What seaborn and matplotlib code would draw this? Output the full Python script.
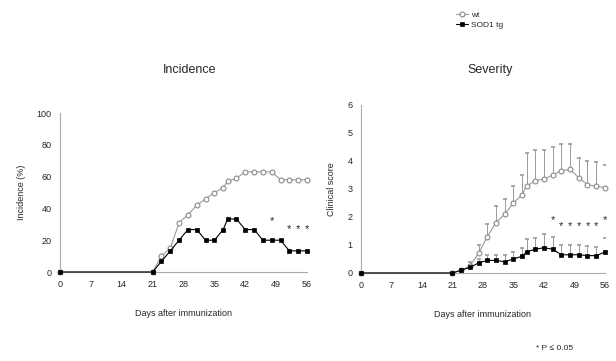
import matplotlib
matplotlib.use("Agg")
import matplotlib.pyplot as plt
import numpy as np
import pandas as pd
import seaborn as sns

sns.set_style("white")
plt.rcParams["font.family"] = ["Liberation Sans", "DejaVu Sans"]

# Data
days = [0, 21, 23, 25, 27, 29, 31, 33, 35, 37, 38, 40, 42, 44, 46, 48, 50, 52, 54, 56]

wt_incidence = [0, 0, 10, 15, 31, 36, 42, 46, 50, 53, 57, 59, 63, 63, 63, 63, 58, 58, 58, 58]
tg_incidence = [0, 0, 6.7, 13.3, 20, 26.7, 26.7, 20, 20, 26.7, 33.3, 33.3, 26.7, 26.7, 20, 20, 20, 13.3, 13.3, 13.3]

wt_score = [0, 0, 0.1, 0.25, 0.7, 1.3, 1.8, 2.1, 2.5, 2.8, 3.1, 3.3, 3.35, 3.5, 3.65, 3.7, 3.4, 3.15, 3.1, 3.05]
wt_sd = [0, 0, 0.05, 0.15, 0.3, 0.45, 0.6, 0.55, 0.6, 0.7, 1.2, 1.1, 1.05, 1.0, 0.95, 0.9, 0.7, 0.85, 0.85, 0.8]
tg_score = [0, 0, 0.1, 0.2, 0.36, 0.45, 0.45, 0.4, 0.5, 0.6, 0.75, 0.85, 0.9, 0.85, 0.65, 0.65, 0.65, 0.62, 0.62, 0.75]
tg_sd = [0, 0, 0.05, 0.1, 0.15, 0.2, 0.2, 0.25, 0.25, 0.3, 0.45, 0.4, 0.5, 0.45, 0.35, 0.35, 0.35, 0.35, 0.3, 0.5]

inc_star_days = [48, 52, 54, 56]
inc_star_y = [29, 24, 24, 24]
sev_star_days = [44, 46, 48, 50, 52, 54, 56]
sev_star_y = [1.7, 1.5, 1.5, 1.5, 1.5, 1.5, 1.7]

day_ticks = [0, 7, 14, 21, 28, 35, 42, 49, 56]
groups = ["wt", "SOD1 tg"]

df = pd.DataFrame({
    "day": days * 2,
    "group": [groups[0]] * len(days) + [groups[1]] * len(days),
    "incidence": wt_incidence + tg_incidence,
    "score": wt_score + tg_score,
    "sd": wt_sd + tg_sd,
})

styles = {
    "wt": dict(color="#9a9a9a", marker="o", markerfacecolor="white",
               markeredgecolor="#8a8a8a", markersize=3.5, markeredgewidth=0.8),
    "SOD1 tg": dict(color="black", marker="s", markerfacecolor="black",
                    markeredgecolor="black", markersize=3.5, markeredgewidth=0.5),
}

fig = plt.figure(figsize=(6.16, 3.61), dpi=100)
ax1 = fig.add_axes([0.0974, 0.2465, 0.401, 0.4404])
ax2 = fig.add_axes([0.586, 0.2438, 0.396, 0.4654])

# Error bars (upper only) for clinical score
for g in groups:
    sub = df[df.group == g]
    ax2.errorbar(sub.day, sub.score, yerr=[np.zeros(len(sub)), sub.sd],
                 fmt="none", ecolor="#9a9a9a", elinewidth=0.7, capsize=1.2,
                 capthick=1.2, zorder=1)

for ax, col in [(ax1, "incidence"), (ax2, "score")]:
    for g in groups:
        sub = df[df.group == g]
        sns.lineplot(data=sub, x="day", y=col, ax=ax, label=g, linewidth=0.8,
                     clip_on=False, zorder=3 if g != "wt" else 2, **styles[g])

ax1.set_xlim(0, 56)
ax1.set_ylim(0, 100)
ax1.set_yticks([0, 20, 40, 60, 80, 100])
ax2.set_xlim(0, 56)
ax2.set_ylim(0, 6)
ax2.set_yticks(range(7))

for ax in (ax1, ax2):
    ax.set_xticks(day_ticks)
    ax.tick_params(axis="both", labelsize=6.5, length=2, width=0.6,
                   direction="in", color="#888888", pad=6)
    for s in ("top", "right"):
        ax.spines[s].set_visible(False)
    for s in ("left", "bottom"):
        ax.spines[s].set_color("#aaaaaa")
        ax.spines[s].set_linewidth(0.8)
    ax.set_xlabel("Days after immunization", fontsize=6.5, labelpad=14)
    ax.get_legend().remove()

ax1.set_ylabel("Incidence (%)", fontsize=6.5, labelpad=8)
ax2.set_ylabel("Clinical score", fontsize=6.5, labelpad=8)

for d, y in zip(inc_star_days, inc_star_y):
    ax1.text(d, y, "*", ha="center", va="bottom", fontsize=8)
for d, y in zip(sev_star_days, sev_star_y):
    ax2.text(d, y, "*", ha="center", va="bottom", fontsize=8)

fig.text(0.308, 0.805, "Incidence", ha="center", va="center", fontsize=9)
fig.text(0.795, 0.805, "Severity", ha="center", va="center", fontsize=9)

handles, labels = ax1.get_legend_handles_labels()
fig.legend(handles, labels, loc="upper left", bbox_to_anchor=(0.73, 0.985),
           frameon=False, fontsize=6, handlelength=1.5, handletextpad=0.4,
           labelspacing=0.2, borderpad=0.2)

fig.text(0.87, 0.025, "* P \u2264 0.05", ha="left", va="bottom", fontsize=6)

fig.savefig("out.png", dpi=100)
